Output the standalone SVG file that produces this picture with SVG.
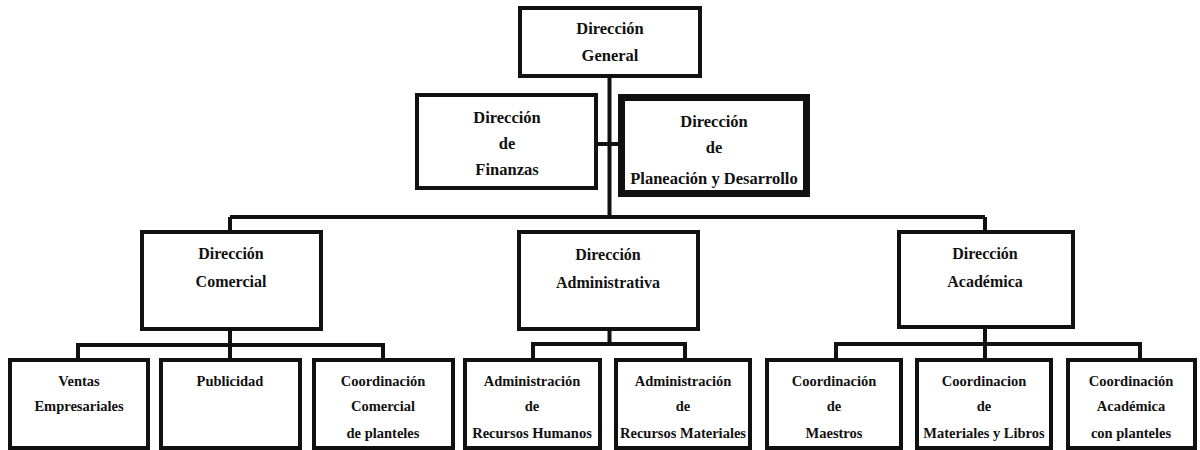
<svg xmlns="http://www.w3.org/2000/svg" width="1200" height="450" viewBox="0 0 1200 450">
<style>
  .box{fill:#fff;stroke:#111;stroke-width:4}
  .thick{stroke-width:7}
  .ln{fill:none;stroke:#111;stroke-width:4}
  text{font-family:"Liberation Serif","Times New Roman",serif;font-weight:bold;fill:#111;text-anchor:middle}
  .t1{font-size:16.5px}
  .t2{font-size:16px}
  .t3{font-size:14.5px}
</style>
<rect width="1200" height="450" fill="#fff"/>
<g id="connectors">
  <path class="ln" d="M609.5 78 V217 M596 144 H619 M230 217 H985 M230 217 V232 M985 217 V232"/>
  <path class="ln" d="M230 331 V345 M78 345 H383 M78 343 V360 M230 345 V360 M383 343 V360"/>
  <path class="ln" d="M609.5 331 V344 M533 344 H685 M533 342 V360 M685 342 V360"/>
  <path class="ln" d="M985 329 V344 M836 344 H1140 M836 342 V360 M985 344 V360 M1140 342 V360"/>
</g>
<g id="general">
  <rect class="box" x="520" y="8" width="180" height="68"/>
  <text class="t1" x="610" y="34">Dirección</text>
  <text class="t1" x="610" y="61">General</text>
</g>
<g id="finanzas">
  <rect class="box" x="417" y="95" width="179" height="93"/>
  <text class="t1" x="507" y="123">Dirección</text>
  <text class="t1" x="507" y="149">de</text>
  <text class="t1" x="507" y="175">Finanzas</text>
</g>
<g id="planeacion">
  <rect class="box thick" x="621.5" y="97.5" width="185" height="96"/>
  <text class="t1" x="714" y="127">Dirección</text>
  <text class="t1" x="714" y="153">de</text>
  <text class="t1" x="714" y="184">Planeación y Desarrollo</text>
</g>
<g id="comercial">
  <rect class="box" x="142" y="232" width="179" height="97"/>
  <text class="t2" x="231" y="259">Dirección</text>
  <text class="t2" x="231" y="287">Comercial</text>
</g>
<g id="administrativa">
  <rect class="box" x="519" y="232" width="179" height="97"/>
  <text class="t2" x="608" y="260">Dirección</text>
  <text class="t2" x="608" y="288">Administrativa</text>
</g>
<g id="academica">
  <rect class="box" x="899" y="232" width="174" height="95"/>
  <text class="t2" x="985" y="259">Dirección</text>
  <text class="t2" x="985" y="287">Académica</text>
</g>
<g id="ventas">
  <rect class="box" x="10" y="360" width="138" height="88"/>
  <text class="t3" x="79" y="386">Ventas</text>
  <text class="t3" x="79" y="411">Empresariales</text>
</g>
<g id="publicidad">
  <rect class="box" x="161" y="360" width="139" height="88"/>
  <text class="t3" x="230" y="386">Publicidad</text>
</g>
<g id="coord-comercial">
  <rect class="box" x="314" y="360" width="139" height="88"/>
  <text class="t3" x="383" y="386">Coordinación</text>
  <text class="t3" x="383" y="411">Comercial</text>
  <text class="t3" x="383" y="438">de planteles</text>
</g>
<g id="rh">
  <rect class="box" x="465" y="360" width="135" height="88"/>
  <text class="t3" x="532" y="386">Administración</text>
  <text class="t3" x="532" y="411">de</text>
  <text class="t3" x="532" y="438">Recursos Humanos</text>
</g>
<g id="rm">
  <rect class="box" x="616" y="360" width="134" height="88"/>
  <text class="t3" x="683" y="386">Administración</text>
  <text class="t3" x="683" y="411">de</text>
  <text class="t3" x="683" y="438">Recursos Materiales</text>
</g>
<g id="maestros">
  <rect class="box" x="767" y="360" width="134" height="88"/>
  <text class="t3" x="834" y="386">Coordinación</text>
  <text class="t3" x="834" y="411">de</text>
  <text class="t3" x="834" y="438">Maestros</text>
</g>
<g id="materiales">
  <rect class="box" x="917" y="360" width="134" height="88"/>
  <text class="t3" x="984" y="386">Coordinacion</text>
  <text class="t3" x="984" y="411">de</text>
  <text class="t3" x="984" y="438">Materiales y Libros</text>
</g>
<g id="coord-academica">
  <rect class="box" x="1068" y="360" width="127" height="88"/>
  <text class="t3" x="1131" y="386">Coordinación</text>
  <text class="t3" x="1131" y="411">Académica</text>
  <text class="t3" x="1131" y="438">con planteles</text>
</g>
</svg>
